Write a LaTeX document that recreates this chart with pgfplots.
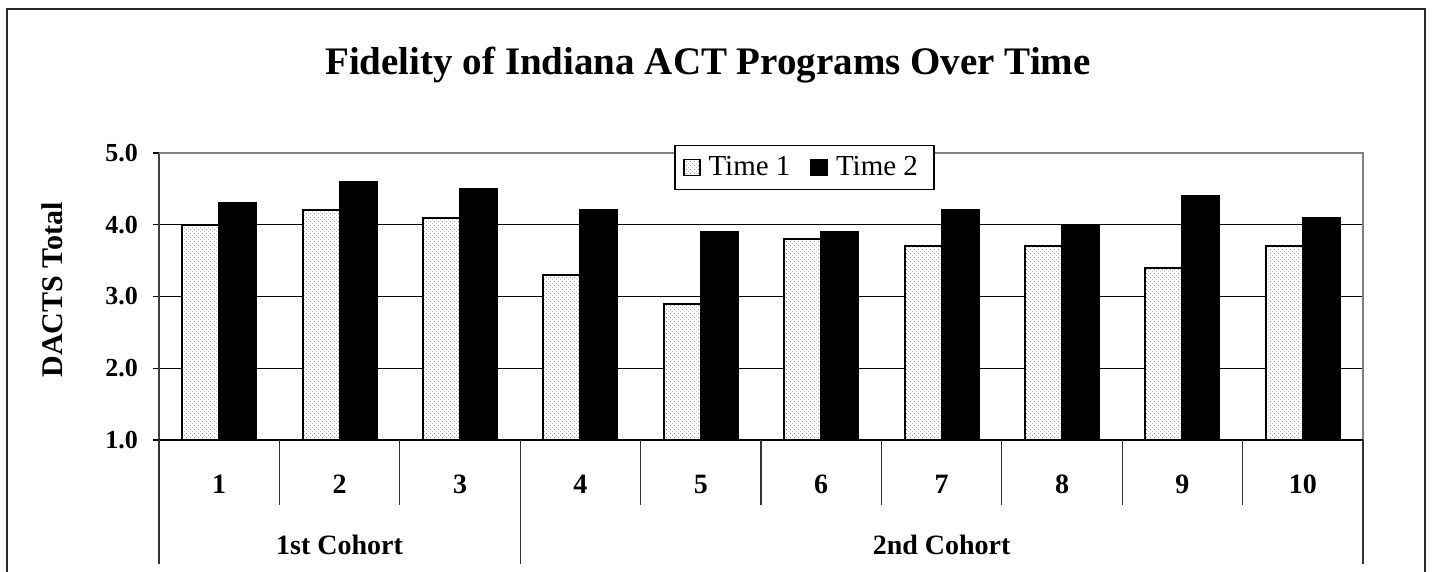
\documentclass[border=0pt]{standalone}
\usepackage{pgfplots}
\pgfplotsset{compat=1.18}
\usepackage{fontspec}
\setmainfont{Liberation Serif}
\usetikzlibrary{patterns}

\pgfdeclarepatternformonly{finedots}{\pgfpointorigin}{\pgfqpoint{2pt}{2pt}}{\pgfqpoint{2pt}{2pt}}{%
  \pgfpathcircle{\pgfqpoint{0.5pt}{0.5pt}}{0.28pt}%
  \pgfpathcircle{\pgfqpoint{1.5pt}{1.5pt}}{0.28pt}%
  \pgfusepath{fill}}

\begin{document}
\begin{tikzpicture}
\useasboundingbox (0,0) rectangle (716pt,286pt);
\fill[white] (0,0) rectangle (716pt,286pt);
\draw[line width=1pt, black!85] (3.5pt,281.5pt) rectangle (712.5pt,-20pt);
\node[font=\fontsize{19.5}{23}\selectfont\bfseries] at (354pt,253.5pt) {Fidelity of Indiana ACT Programs Over Time};
\node[rotate=90, font=\fontsize{15}{18}\selectfont\bfseries] at (26pt,141pt) {DACTS Total};

\begin{axis}[
  at={(79.5pt,66pt)}, anchor=south west,
  scale only axis, width=602pt, height=143.5pt,
  /pgf/number format/assume math mode=true,
  ybar=0pt, bar width=18.5pt,
  xmin=0.5, xmax=10.5, ymin=1, ymax=5,
  xtick={1,2,3,4,5,6,7,8,9,10},
  x tick style={draw=none},
  xticklabel style={font=\fontsize{14}{16}\selectfont\bfseries, yshift=-11pt},
  ytick={1,2,3,4,5},
  y tick style={black, line width=0.6pt},
  ytick align=outside, ytick pos=left, major tick length=3pt,
  yticklabel style={font=\fontsize{13}{15}\selectfont\bfseries, xshift=-4pt,
    /pgf/number format/.cd, fixed, fixed zerofill, precision=1},
  ymajorgrids, grid style={black, line width=0.6pt},
  axis line style={draw=none},
  clip=false,
  legend style={at={(0.428,1.028)}, anchor=north west, legend columns=2,
    draw=black, line width=0.6pt, fill=white,
    inner xsep=4pt, inner ysep=3.5pt,
    font=\fontsize{14.5}{17}\selectfont,
    nodes={inner xsep=4pt},
    /tikz/every even column/.append style={column sep=6pt}},
  legend image code/.code={\draw[#1, line width=0.8pt] (0pt,-4pt) rectangle (8pt,4pt);},
]
\addplot[draw=black, line width=1pt, fill=white,
  postaction={pattern=finedots, pattern color=black!60}]
  coordinates {(1,4.0) (2,4.2) (3,4.1) (4,3.3) (5,2.9) (6,3.8) (7,3.7) (8,3.7) (9,3.4) (10,3.7)};
\addplot[draw=black, line width=1pt, fill=black]
  coordinates {(1,4.3) (2,4.6) (3,4.5) (4,4.2) (5,3.9) (6,3.9) (7,4.2) (8,4.0) (9,4.4) (10,4.1)};
\legend{Time 1, Time 2}

\draw[black!75, line width=1pt] (rel axis cs:0,0) -- (rel axis cs:0,1);
\draw[black!50, line width=1pt] (rel axis cs:0,1) -- (rel axis cs:1,1) -- (rel axis cs:1,0);
\draw[black, line width=1pt] (rel axis cs:0,0) -- (rel axis cs:1,0);

\pgfplotsinvokeforeach{0.5,1.5,2.5,3.5,4.5,5.5,6.5,7.5,8.5,9.5,10.5}{
  \draw[black!80, line width=0.6pt] (axis cs:#1,1) -- ++(0pt,-32.5pt);
}
\pgfplotsinvokeforeach{0.5,3.5,10.5}{
  \draw[black!80, line width=0.6pt] (axis cs:#1,1) -- ++(0pt,-62pt);
}
\node[font=\fontsize{14}{16}\selectfont\bfseries, yshift=-52.5pt] at (axis cs:2,1) {1st Cohort};
\node[font=\fontsize{14}{16}\selectfont\bfseries, yshift=-52.5pt] at (axis cs:7,1) {2nd Cohort};
\end{axis}
\end{tikzpicture}
\end{document}
